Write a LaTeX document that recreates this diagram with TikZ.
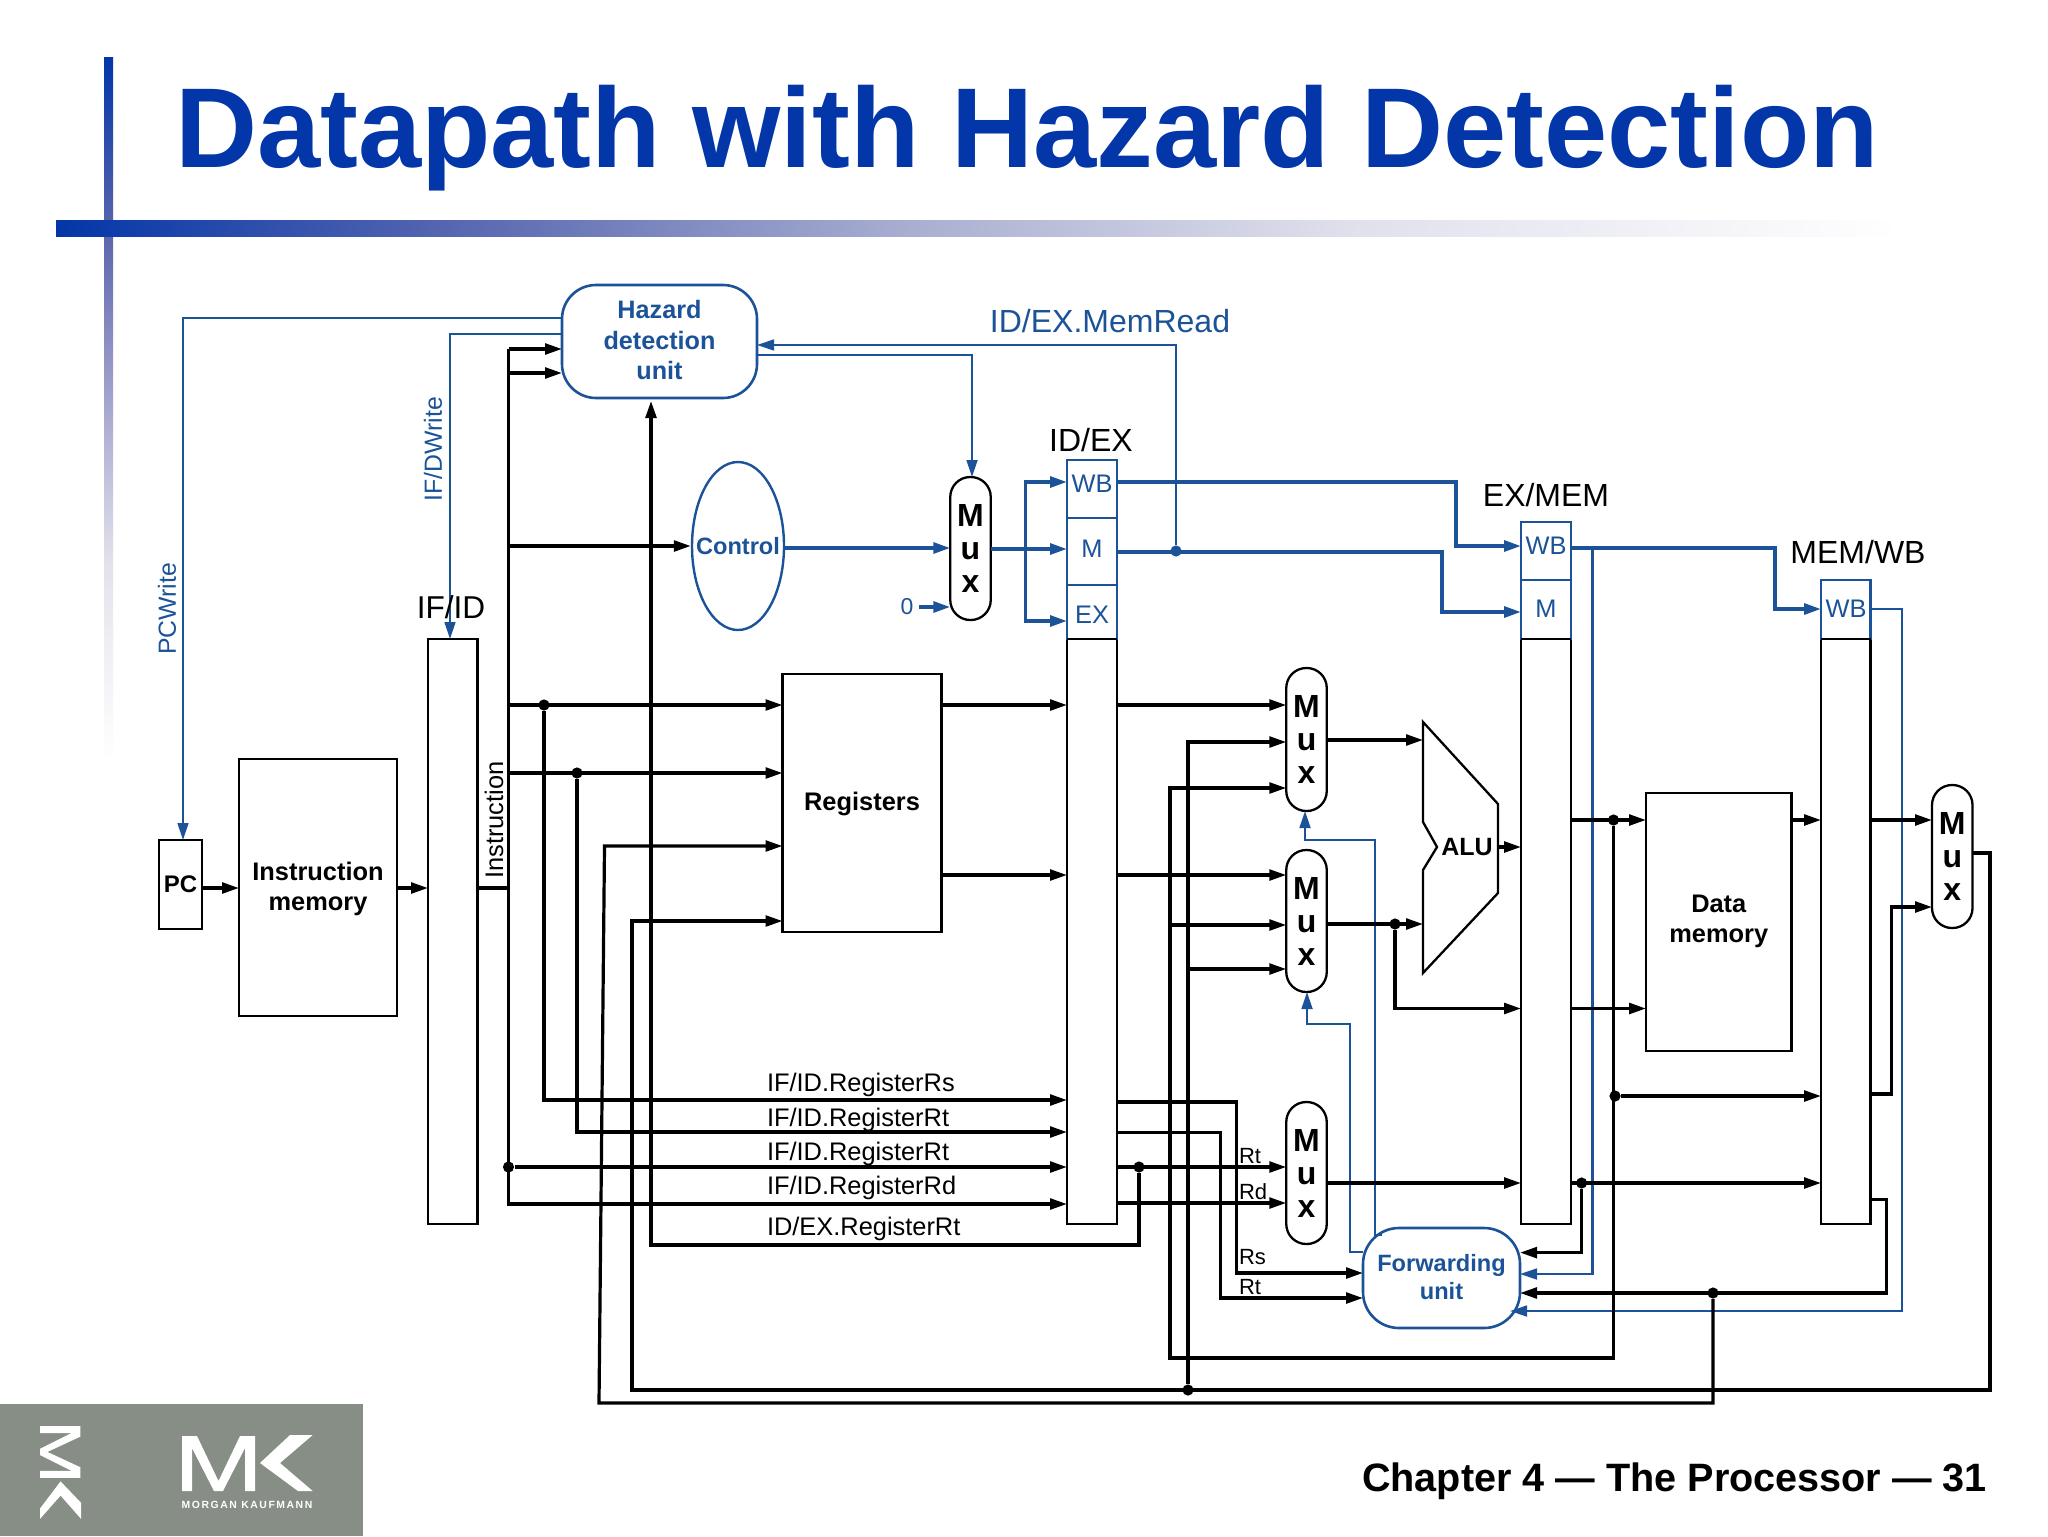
\documentclass[tikz,border=0pt]{standalone}
\usepackage{fontspec}
\setmainfont{Liberation Sans}
\newfontfamily\mkfont[LetterSpace=15]{Liberation Sans}
\usetikzlibrary{arrows.meta,shapes.geometric}
\definecolor{titleblue}{HTML}{0336A8}
\definecolor{pathblue}{HTML}{1C5398}
\definecolor{logogray}{HTML}{878E86}
\definecolor{hbone}{HTML}{5565B0}
\definecolor{hbtwo}{HTML}{A8AED0}
\definecolor{hbthree}{HTML}{DFE0EC}
\definecolor{vbone}{HTML}{5F68AE}
\definecolor{vbtwo}{HTML}{B0B0D4}
\definecolor{vbthree}{HTML}{E2E2EC}
\pgfdeclarehorizontalshading{barh}{100bp}{color(0bp)=(titleblue); color(25bp)=(titleblue); color(35.5bp)=(hbone); color(48bp)=(hbtwo); color(60bp)=(hbthree); color(75bp)=(white); color(100bp)=(white)}
\pgfdeclareverticalshading{barv}{100bp}{color(0bp)=(white); color(25bp)=(white); color(39bp)=(vbthree); color(48.5bp)=(vbtwo); color(62bp)=(vbone); color(75bp)=(titleblue); color(100bp)=(titleblue)}
\newcommand\fsz[2]{\fontsize{#1}{#2}\selectfont}
\newcommand\mkshape{%
  \fill[white] (0,56)--(0,1)--(15,1)--(36.5,46)--(58,1)--(73,1)--(73,56)--(63,56)--(63,13)--(41,56)--(32,56)--(10,13)--(10,56)--cycle;
  \fill[white] (108,0)--(78,28)--(116,56)--(130.7,56)--(98,28)--(130.7,0)--cycle;}
\tikzset{
  boxwh/.style 2 args={minimum width={#1*0.5pt},minimum height={#2*0.5pt},inner sep=0pt,outer sep=0pt},
  blk/.style={draw=black,line width=1.15pt,fill=white},
  blu/.style={draw=pathblue,line width=1.1pt,fill=white,text=pathblue,font=\fsz{12.7}{15}},
  muxbox/.style={blk,rounded corners=10pt,align=center,font=\bfseries\fsz{16}{16.5}},
  unitbox/.style={draw=pathblue,line width=1.3pt,fill=white,text=pathblue,align=center},
  plain/.style={inner sep=0pt,outer sep=0pt},
  heavy/.style={draw=black,line width=1.6pt,line join=miter},
  bheavy/.style={draw=pathblue,line width=1.8pt},
  bthin/.style={draw=pathblue,line width=1.15pt},
  tip/.style={-{Triangle[length=8.5pt,width=5.4pt]}},
  jdot/.style={circle,fill=black,inner sep=0pt,minimum size=5.6pt},
  bdot/.style={circle,fill=pathblue,inner sep=0pt,minimum size=5.6pt},
}
\begin{document}
\begin{tikzpicture}[x=0.5pt,y=-0.5pt]
\useasboundingbox (0,0) rectangle (2048,1536);
\fill[white] (0,0) rectangle (2048,1536);
% slide furniture
\fill[shading=barv] (104,58) rectangle (113,760);
\fill[shading=barh] (56,220) rectangle (1900,236);
\node[plain,anchor=base west,text=titleblue,font=\bfseries\fsz{56.8}{57}] (title) at (175,167) {Datapath with Hazard Detection};
\fill[logogray] (0,1404) rectangle (363,1536);
\begin{scope}[shift={(182,1435)}] \mkshape \end{scope}
\begin{scope}[shift={(81,1426)},x={(0pt,-0.355pt)},y={(-0.365pt,0pt)}] \mkshape \end{scope}
\node[plain,text=white,font=\mkfont\bfseries\fsz{5.2}{6}] (mklabel) at (247,1505) {MORGAN KAUFMANN};
\node[plain,anchor=base east,font=\bfseries\fsz{19.8}{22}] (footer) at (1987,1491) {Chapter 4 — The Processor — 31};

% blocks
\node[blk,boxwh={43}{89},font=\bfseries\fsz{12}{14}] (pc) at (180.5,884.5) {PC};
\node[blk,boxwh={158}{257}] (imem) at (318,887.5) {};
\node[plain,align=center,font=\bfseries\fsz{12.7}{15}] (imemlabel) at (318,889) {Instruction\\memory};
\node[blk,boxwh={49.5}{585}] (ifid) at (452.75,931.5) {};
\node[blk,boxwh={159}{258}] (regs) at (862,803) {};
\node[plain,font=\bfseries\fsz{12.7}{15}] (regslabel) at (862,804) {Registers};
\node[blk,boxwh={145.5}{258}] (dmem) at (1718.75,922) {};
\node[plain,align=center,font=\bfseries\fsz{12.7}{15}] (dmemlabel) at (1718.75,921) {Data\\memory};
% pipeline registers
\node[blk,boxwh={50}{585}] (idex) at (1092,931.5) {};
\node[blu,boxwh={50}{58}] (idexwb) at (1092,489) {};
\node[blu,boxwh={50}{67}] (idexm) at (1092,551.5) {};
\node[blu,boxwh={50}{54}] (idexex) at (1092,612) {};
\node[blk,boxwh={50}{585}] (exmem) at (1546,931.5) {};
\node[blu,boxwh={50}{58}] (exmemwb) at (1546,551) {};
\node[blu,boxwh={50}{59}] (exmemm) at (1546,609.5) {};
\node[blk,boxwh={49.5}{585}] (memwb) at (1845.75,931.5) {};
\node[blu,boxwh={49.5}{59}] (memwbwb) at (1845.75,609.5) {};
\draw[black,line width=1.15pt] (idex.north west) -- (idex.north east) (exmem.north west) -- (exmem.north east) (memwb.north west) -- (memwb.north east);
\node[plain,text=pathblue,font=\fsz{12.7}{15}] (l1) at (1092,484) {WB};
\node[plain,text=pathblue,font=\fsz{12.7}{15}] (l2) at (1092,548.5) {M};
\node[plain,text=pathblue,font=\fsz{12.7}{15}] (l3) at (1092,615) {EX};
\node[plain,text=pathblue,font=\fsz{12.7}{15}] (l4) at (1546,546) {WB};
\node[plain,text=pathblue,font=\fsz{12.7}{15}] (l5) at (1546,609) {M};
\node[plain,text=pathblue,font=\fsz{12.7}{15}] (l6) at (1846,609) {WB};
% muxes
\node[muxbox,boxwh={40.5}{143}] (muxc) at (970.5,548.5) {M\\u\\x};
\node[muxbox,boxwh={40.5}{143}] (muxa) at (1306.5,739.5) {M\\u\\x};
\node[muxbox,boxwh={40.5}{142}] (muxb) at (1306.5,921) {M\\u\\x};
\node[muxbox,boxwh={40.5}{142}] (muxr) at (1306.5,1173) {M\\u\\x};
\node[muxbox,boxwh={40.5}{143}] (muxw) at (1952.25,856.5) {M\\u\\x};
% units
\node[unitbox,boxwh={195}{113},rounded corners=17pt,font=\bfseries\fsz{12.6}{15.3}] (hazard) at (659.5,341.5) {};
\node[plain,align=center,text=pathblue,font=\bfseries\fsz{12.6}{15.3}] (hazardlabel) at (659.5,340) {Hazard\\detection\\unit};
\node[unitbox,boxwh={157}{100},rounded corners=18pt] (fwd) at (1441.5,1278) {};
\node[plain,align=center,text=pathblue,font=\bfseries\fsz{11.8}{14.3}] (fwdlabel) at (1441.5,1277) {Forwarding\\unit};
\node[draw=pathblue,line width=1.2pt,ellipse,fill=white,inner sep=0pt,minimum width=46pt,minimum height=84pt] (control) at (738,546) {};
\node[plain,text=pathblue,font=\bfseries\fsz{11.8}{14}] (controllabel) at (738,546) {Control};
% ALU
\draw[black,line width=1.15pt,line join=miter] (1423,722) -- (1498,804) -- (1498,893) -- (1423,973) -- (1423,870) -- (1437,847) -- (1423,822) -- cycle;
\coordinate (aluin) at (1423,740);
\coordinate (aluinb) at (1423,924);
\coordinate (aluout) at (1498,847);
\node[plain,font=\bfseries\fsz{12.5}{15}] (alulabel) at (1467,847) {ALU};

% junctions
\node[jdot] (d1) at (544,705) {};
\node[jdot] (d2) at (577,773) {};
\node[jdot] (d3) at (508.5,1167) {};
\node[jdot] (d4) at (1139,1167) {};
\node[jdot] (d5) at (1395,924) {};
\node[jdot] (d6) at (1613.5,820) {};
\node[jdot] (d7) at (1615,1096) {};
\node[jdot] (d8) at (1581.6,1183) {};
\node[jdot] (d9) at (1713,1293) {};
\node[jdot] (d10) at (1188,1390) {};
\node[bdot] (d11) at (1176,551) {};

% blue control paths
\draw[bthin,tip] (hazard.west |- 0,318) -- (183,318) -- (pc.north -| 183,0);
\draw[bthin,tip] (hazard.west |- 0,334) -- (450,334) -- (ifid.north -| 450,0);
\draw[bthin,tip] (hazard.east |- 0,355) -- (972,355) -- (muxc.north -| 972,0);
\draw[bthin,tip] (d11) -- (1176,345) -- (hazard.east |- 0,345);
\draw[bheavy,tip] (control.east |- 0,548) -- (muxc.west |- 0,548);
\coordinate (zerostart) at (919,607);
\draw[bheavy,tip] (zerostart) -- (muxc.west |- 0,607);
\draw[bheavy,tip] (muxc.east |- 0,549) -- (idexm.west |- 0,549);
\draw[bheavy,tip] (1025.5,549) -- (1025.5,482) -- (idexwb.west |- 0,482);
\draw[bheavy,tip] (1025.5,549) -- (1025.5,621) -- (idexex.west |- 0,621);
\draw[bheavy,tip] (idexwb.east |- 0,482) -- (1456,482) -- (1456,546) -- (exmemwb.west |- 0,546);
\draw[bheavy,tip] (idexm.east |- 0,552) -- (1442,552) -- (1442,612) -- (exmemm.west |- 0,612);
\draw[bheavy,tip] (exmemwb.east |- 0,548) -- (1775,548) -- (1775,609) -- (memwbwb.west |- 0,609);
\draw[bthin,tip] (1592.5,548) -- (1592.5,1274) -- (fwd.east |- 0,1274);
\draw[bthin,tip] (memwbwb.east |- 0,609) -- (1902,609) -- (1902,1311) -- ([xshift=-5pt]fwd.east |- 0,1311);
\draw[bthin,tip] (fwd.west |- 0,1252) -- (1350,1252) -- (1350,1024) -- (1307,1024) -- (muxb.south -| 1307,0);
\draw[bthin,tip] (1382,1235) -- (1375,1235) -- (1375,840) -- (1305,840) -- (muxa.south -| 1305,0);

% black: instruction bus
\draw[heavy,tip] (pc.east |- 0,888) -- (imem.west |- 0,888);
\draw[heavy,tip] (imem.east |- 0,888) -- (ifid.west |- 0,888);
\draw[heavy] (ifid.east |- 0,888) -- (508.5,888);
\draw[heavy,tip] (508.5,349) -- (508.5,1204) -- (idex.west |- 0,1204);
\draw[heavy,tip] (508.5,349) -- (hazard.west |- 0,349);
\draw[heavy,tip] (508.5,373) -- (hazard.west |- 0,373);
\draw[heavy,tip] (508.5,546) -- (control.west);
\draw[heavy,tip] (508.5,705) -- (regs.west |- 0,705);
\draw[heavy,tip] (508.5,773) -- (regs.west |- 0,773);
\draw[heavy,tip] (d1) -- (544,1100) -- (idex.west |- 0,1100);
\draw[heavy,tip] (d2) -- (577,1132) -- (idex.west |- 0,1132);
\draw[heavy,tip] (d3) -- (idex.west |- 0,1167);
\draw[heavy,tip] (regs.east |- 0,705) -- (idex.west |- 0,705);
\draw[heavy,tip] (regs.east |- 0,875) -- (idex.west |- 0,875);
% ID/EX outputs
\draw[heavy,tip] (idex.east |- 0,705) -- (muxa.west |- 0,705);
\draw[heavy,tip] (idex.east |- 0,875) -- (muxb.west |- 0,875);
\draw[heavy,tip] (idex.east |- 0,1167) -- (muxr.west |- 0,1167);
\draw[heavy,tip] (idex.east |- 0,1203) -- (muxr.west |- 0,1203);
\draw[heavy,tip] (d4) -- (1139,1245) -- (651,1245) -- ([yshift=-1.5pt]hazard.south -| 651,0);
\draw[heavy,tip] (idex.east |- 0,1102) -- (1236.6,1102) -- (1236.6,1273) -- (fwd.west |- 0,1273);
\draw[heavy,tip] (idex.east |- 0,1132.6) -- (1220.6,1132.6) -- (1220.6,1298) -- (fwd.west |- 0,1298);
% forwarding paths into muxes
\draw[heavy,tip] (muxw.east |- 0,853) -- (1990,853) -- (1990,1390) -- (632,1390) -- (632,921) -- (regs.west |- 0,921);
\draw[heavy,tip] (d10) -- (1188,742) -- (muxa.west |- 0,742);
\draw[heavy,tip] (1188,969) -- (muxb.west |- 0,969);
\draw[heavy,tip] (d6) -- (1613.5,1358) -- (1170,1358) -- (1170,788) -- (muxa.west |- 0,788);
\draw[heavy,tip] (1170,925) -- (muxb.west |- 0,925);
\draw[heavy,tip] (d9) -- (1713,1403) -- (599,1403) -- (604.5,846) -- (regs.west |- 0,846);
% EX stage and later
\draw[heavy,tip] (muxa.east |- 0,740) -- (aluin);
\draw[heavy,tip] (muxb.east |- 0,924) -- (aluinb);
\draw[heavy,tip] (d5) -- (1395,1008.5) -- (exmem.west |- 0,1008.5);
\draw[heavy,tip] (aluout) -- (exmem.west |- 0,847);
\draw[heavy,tip] (muxr.east |- 0,1183) -- (exmem.west |- 0,1183);
\draw[heavy,tip] (exmem.east |- 0,820) -- (dmem.west |- 0,820);
\draw[heavy,tip] (exmem.east |- 0,1008.5) -- (dmem.west |- 0,1008.5);
\draw[heavy,tip] (dmem.east |- 0,820) -- (memwb.west |- 0,820);
\draw[heavy,tip] (d7) -- (memwb.west |- 0,1096);
\draw[heavy,tip] (exmem.east |- 0,1183) -- (memwb.west |- 0,1183);
\draw[heavy,tip] (d8) -- (1581.6,1252.6) -- (fwd.east |- 0,1252.6);
\draw[heavy,tip] (memwb.east |- 0,820) -- (muxw.west |- 0,820);
\draw[heavy,tip] (memwb.east |- 0,1094) -- (1891.6,1094) -- (1891.6,907) -- (muxw.west |- 0,907);
\draw[heavy,tip] (memwb.east |- 0,1199.5) -- (1886.5,1199.5) -- (1886.5,1293) -- (fwd.east |- 0,1293);

% labels
\node[plain,text=pathblue,font=\fsz{16}{18}] (lmr) at (1110,321) {ID/EX.MemRead};
\node[plain,text=pathblue,font=\fsz{12.4}{14},rotate=90] (lifd) at (433,449) {IF/DWrite};
\node[plain,text=pathblue,font=\fsz{12.4}{14},rotate=90] (lpcw) at (167,609) {PCWrite};
\node[plain,text=pathblue,font=\fsz{11.5}{13}] (zero) at (907,607) {0};
\node[plain,font=\fsz{15.8}{18}] (lifid) at (451,607) {IF/ID};
\node[plain,font=\fsz{16}{18}] (lidex) at (1091,440) {ID/EX};
\node[plain,font=\fsz{16}{18}] (lexmem) at (1546,495) {EX/MEM};
\node[plain,font=\fsz{16}{18}] (lmemwb) at (1858,552) {MEM/WB};
\node[plain,font=\fsz{12.7}{15},rotate=90] (linstr) at (494,820) {Instruction};
\node[plain,anchor=west,font=\fsz{12.7}{15}] (r1) at (767,1085) {IF/ID.RegisterRs};
\node[plain,anchor=west,font=\fsz{12.7}{15}] (r2) at (767,1120) {IF/ID.RegisterRt};
\node[plain,anchor=west,font=\fsz{12.7}{15}] (r3) at (767,1154) {IF/ID.RegisterRt};
\node[plain,anchor=west,font=\fsz{12.7}{15}] (r4) at (767,1188) {IF/ID.RegisterRd};
\node[plain,anchor=west,font=\fsz{12.7}{15}] (r5) at (767,1229) {ID/EX.RegisterRt};
\node[plain,anchor=west,font=\fsz{11}{13}] (q1) at (1239,1156) {Rt};
\node[plain,anchor=west,font=\fsz{11}{13}] (q2) at (1239,1192) {Rd};
\node[plain,anchor=west,font=\fsz{11}{13}] (q3) at (1239,1257) {Rs};
\node[plain,anchor=west,font=\fsz{11}{13}] (q4) at (1239,1287) {Rt};
\end{tikzpicture}
\end{document}
